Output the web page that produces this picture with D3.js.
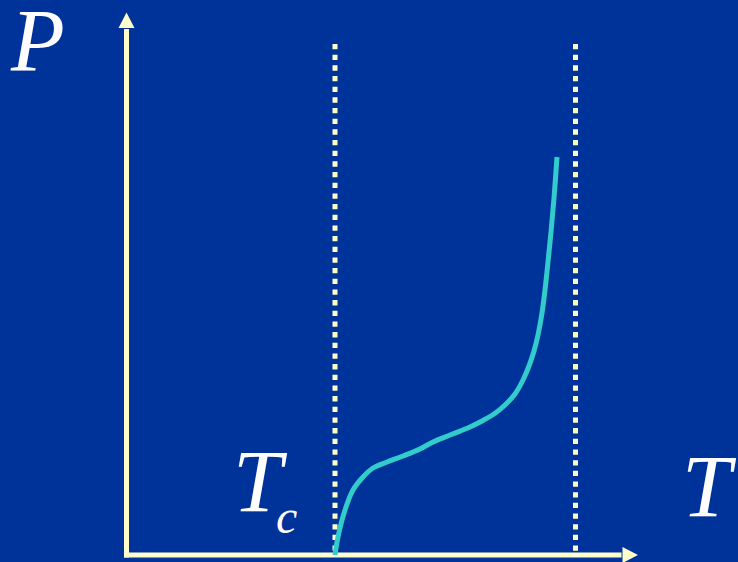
<!DOCTYPE html>
<html>
<head>
<meta charset="utf-8">
<script src="https://cdn.jsdelivr.net/npm/d3@7"></script>
<style>
  html, body { margin: 0; padding: 0; background: #003399; }
  svg { display: block; }
</style>
</head>
<body>
<svg id="chart" width="738" height="562"></svg>
<script>
// ---- data ----
const temperature = [41.7, 42.3, 43.7, 45.3, 47.3, 49.3, 52.1, 55.3, 58.7, 61.3, 64.7, 68.7, 71.1, 73.5, 75.7, 77.7, 79.3, 80.5, 81.5, 82.3, 83.1, 83.7, 84.3, 84.9, 85.5, 86.1];
const pressure    = [0,    3.6,  9.0,  13.0, 15.6, 17.4, 18.6, 19.8, 21.2, 22.6, 24.0, 25.6, 26.8, 28.2, 30.0, 32.2, 35.0, 37.8, 40.8, 44.0, 48.4, 53.0, 58.6, 64.6, 71.4, 79.6];
const referenceT  = [41.7, 89.8];
const axisLabels  = { y: "P", x: "T", tc: "T", tcSub: "c" };

// ---- layout ----
const W = 738, H = 562;
const bg = "#003399", axisColor = "#FFFFCC", curveColor = "#33CCCC";
const svg = d3.select("#chart");
svg.append("rect").attr("width", W).attr("height", H).attr("fill", bg);

const x = d3.scaleLinear().domain([0, 100]).range([126.5, 626.5]);
const y = d3.scaleLinear().domain([0, 100]).range([555, 55]);

// axes
const xAxisStart = x(-0.5), xArrowBase = 622.5, xTip = 638;
const yAxisStart = 557.5, yArrowBase = 28, yTip = 12.5;
const x0 = x(0), y0 = y(0);

svg.append("line").attr("x1", x0).attr("x2", x0).attr("y1", yAxisStart).attr("y2", yArrowBase + 1)
  .attr("stroke", axisColor).attr("stroke-width", 5);
svg.append("path").attr("d", `M${x0 - 8},${yArrowBase} L${x0},${yTip} L${x0 + 8},${yArrowBase} Z`)
  .attr("fill", axisColor);

svg.append("line").attr("x1", xAxisStart).attr("x2", xArrowBase - 1).attr("y1", y0).attr("y2", y0)
  .attr("stroke", axisColor).attr("stroke-width", 5);
svg.append("path").attr("d", `M${xArrowBase},${y0 - 8} L${xTip},${y0} L${xArrowBase},${y0 + 8} Z`)
  .attr("fill", axisColor);

// dotted reference lines
svg.selectAll("line.ref").data(referenceT).join("line")
  .attr("class", "ref")
  .attr("x1", d => x(d)).attr("x2", d => x(d))
  .attr("y1", 44).attr("y2", 551)
  .attr("stroke", axisColor).attr("stroke-width", 5)
  .attr("stroke-dasharray", "5.3 5.37");

// curve
const line = d3.line()
  .x((d, i) => x(temperature[i]))
  .y((d, i) => y(pressure[i]))
  .curve(d3.curveCatmullRom.alpha(0.5));
svg.append("path").datum(pressure)
  .attr("d", line)
  .attr("fill", "none")
  .attr("stroke", curveColor)
  .attr("stroke-width", 5);

// labels
const font = "'Liberation Serif', 'Times New Roman', serif";
function label(txt, px, py, size) {
  return svg.append("text").attr("x", px).attr("y", py)
    .attr("font-family", font).attr("font-style", "italic")
    .attr("font-size", size).attr("fill", "#FFFFFF").text(txt);
}
label(axisLabels.y, 11, 70, 88);
label(axisLabels.x, 682, 516, 88);
label(axisLabels.tc, 233, 511, 88);
label(axisLabels.tcSub, 276, 533, 48);
</script>
</body>
</html>
